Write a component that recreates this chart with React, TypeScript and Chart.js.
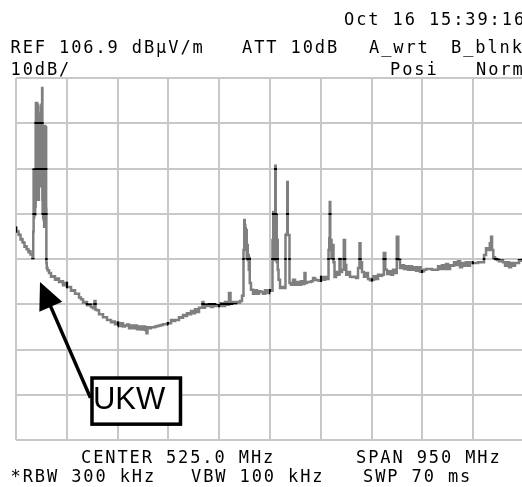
import { useEffect, useRef } from "react";
import { Chart, registerables } from "chart.js";

Chart.register(...registerables);

// ---- data (frequency in MHz, level in dBµV/m) ----
const frequenciesMHz = [
  50.0, 51.9, 53.7, 55.6, 57.5, 59.4, 61.2, 63.1, 65.0, 66.8, 68.7, 70.6, 72.4, 74.3, 76.2, 78.0, 79.9, 81.8,
  82.7, 83.2, 83.7, 84.2, 84.6, 85.1, 85.5, 86.0, 86.5, 87.0, 87.4, 87.9, 88.3, 88.8, 89.3, 89.7, 90.2, 90.7,
  91.1, 91.6, 92.1, 92.5, 93.0, 93.5, 94.0, 94.4, 94.9, 95.3, 95.8, 96.3, 96.8, 97.2, 97.7, 98.2, 98.6, 99.1,
  99.6, 100.0, 100.5, 101.0, 101.4, 102.0, 102.4, 102.9, 103.3, 103.8, 104.2, 104.7, 105.2, 105.6, 106.1, 106.6,
  107.0, 108.0,
  109.8, 113.6, 117.3, 121.1, 124.8, 128.5, 132.3, 136.0, 139.8, 143.5, 147.2, 151.0, 154.7, 158.5, 162.2, 166.0,
  169.7, 173.4, 177.2, 180.9, 184.6, 188.4, 192.1, 195.9, 197.7, 199.6, 203.4, 207.1, 210.8, 214.6, 218.3, 222.1,
  225.8, 229.5, 233.3, 237.0, 240.8, 244.5, 248.2, 252.0, 255.7, 259.5, 263.2, 266.9, 270.7, 274.4, 278.1, 281.9,
  285.6, 289.4, 293.1, 295.0, 296.8, 300.6, 304.3, 308.1, 311.8, 315.5, 319.3, 323.0, 326.8, 330.5, 334.2, 338.0,
  341.7, 345.5, 349.2, 352.9, 356.7, 360.4, 364.2, 367.9, 371.6, 375.4, 379.1, 382.9, 386.6, 390.4, 394.1, 397.8,
  399.7, 401.6, 405.3, 409.0, 412.8, 416.5, 420.3, 424.0, 427.7, 431.5, 435.2, 439.0, 442.7, 446.4, 450.2, 452.1,
  455.8, 459.5, 463.3, 467.0, 470.8, 474.5,
  476.4, 477.3, 478.3, 479.2, 480.1, 481.1, 482.0, 482.9, 483.9, 484.8, 485.8, 486.7, 487.6, 491.3, 495.1, 498.8,
  502.6, 506.3, 510.1, 513.8, 517.5, 521.3, 525.0, 528.7,
  530.6, 531.5, 532.5, 533.4, 534.4, 535.3, 536.2, 537.2, 538.1, 539.0, 540.0, 541.9, 545.6, 549.3, 553.0,
  554.9, 556.8, 557.7, 558.7, 560.5, 562.4, 566.2, 569.9, 573.6, 577.4, 581.1, 584.9, 588.6, 590.4, 592.3, 596.1,
  599.8, 603.6, 607.3, 611.0, 614.8, 618.5, 622.3, 626.0, 629.8, 633.5,
  635.4, 636.3, 637.2, 638.2, 639.1, 641.0, 642.8, 644.7, 646.6, 650.3, 654.1, 655.9, 657.8, 661.5, 664.4, 666.2,
  669.0, 672.8, 676.5, 680.2, 684.0, 687.7, 691.5, 693.3, 695.2, 698.9, 702.7, 706.4, 710.1, 713.9, 717.6, 721.4,
  725.1, 728.9, 732.6, 736.3, 739.2, 742.0, 745.7, 749.4, 753.2, 756.9, 760.7, 763.5, 766.3, 770.0, 773.7, 777.5,
  781.2, 785.0, 788.7, 792.5, 796.2, 799.9, 803.7, 807.4, 811.2, 814.9, 818.6, 822.4, 826.1, 829.9, 833.6, 837.4,
  841.1, 844.8, 848.6, 852.3, 856.1, 859.8, 863.6, 867.3, 871.0, 874.8, 878.5, 882.3, 886.0, 889.7, 893.5, 897.2,
  901.0, 904.7, 908.4, 912.2, 915.9, 919.7, 923.4, 927.1, 930.9, 934.6, 937.5, 939.3, 941.2, 943.9, 947.7, 951.4,
  955.1, 958.9, 962.6, 966.4, 970.1, 973.9, 977.6, 981.3, 985.1, 988.8, 992.6, 996.3, 1000.0,
];

const levelsDbuV = [
  73.8, 73.1, 73.0, 72.3, 72.2, 71.2, 71.3, 70.6, 70.5, 69.6, 69.7, 69.1, 69.0, 68.4, 68.6, 67.9, 67.9, 67.1,
  73.0, 86.6, 76.0, 85.0, 77.0, 86.0, 76.6, 84.0, 78.4, 97.0, 101.4, 80.0, 101.0, 82.0, 101.4, 84.0, 100.5, 85.5,
  101.0, 87.0, 99.0, 80.0, 96.0, 85.0, 92.5, 84.0, 92.0, 86.0, 92.5, 83.0, 100.5, 86.0, 101.0, 84.0, 100.0, 104.7,
  80.0, 77.0, 79.5, 76.0, 78.0, 75.5, 77.0, 74.0, 76.0, 80.0, 96.3, 84.0, 95.0, 82.0, 96.0, 78.0,
  66.0, 64.9,
  64.4, 63.8, 63.0, 63.1, 62.3, 62.6, 61.8, 62.0, 61.1, 61.6, 60.7, 60.7, 59.9, 60.0, 59.2, 59.2,
  58.4, 58.0, 57.4, 57.4, 56.7, 56.8, 56.3, 56.0, 57.6, 55.7, 55.6, 54.7, 54.7, 54.0, 54.0, 53.4,
  53.4, 52.9, 53.1, 52.5, 52.8, 52.1, 52.7, 52.0, 52.2, 52.4, 51.6, 52.2, 51.6, 52.2, 51.4, 52.0,
  51.3, 52.0, 51.2, 50.5, 51.8, 51.6, 51.8, 51.8, 52.0, 52.1, 52.2, 52.3, 52.5, 52.5, 52.7, 52.7,
  53.4, 53.2, 53.4, 53.4, 54.0, 53.9, 54.5, 54.3, 54.9, 54.7, 55.4, 54.9, 55.8, 55.2, 56.1, 56.1,
  57.4, 56.1, 56.8, 56.5, 56.9, 56.3, 56.9, 56.5, 56.7, 56.5, 57.1, 56.5, 57.4, 56.8, 59.4, 57.0,
  57.4, 57.2, 57.4, 57.4, 57.6, 58.8,
  68.9, 75.5, 74.4, 73.7, 68.9, 73.3, 67.1, 70.0, 66.7, 67.8, 64.5, 67.1, 61.6, 60.1, 59.2, 60.0,
  59.2, 59.8, 59.6, 59.2, 60.0, 59.4, 60.0, 59.9,
  71.1, 77.3, 66.7, 77.1, 68.9, 87.5, 73.3, 76.6, 66.2, 71.1, 64.5, 62.3, 60.5, 60.7, 60.5,
  72.2, 72.4, 83.9, 72.2, 72.2, 61.6, 61.2, 62.3, 61.2, 61.8, 61.2, 62.0, 61.4, 63.8, 61.6, 61.8,
  61.8, 62.0, 62.7, 62.3, 62.2, 62.1, 62.9, 62.3, 62.9, 62.5,
  68.9, 71.5, 79.5, 68.9, 71.1, 67.1, 70.0, 66.2, 62.9, 64.0, 63.4, 66.9, 64.0, 64.5, 71.1, 65.6,
  63.4, 64.0, 63.0, 62.9, 63.0, 62.7, 64.9, 70.4, 66.2, 64.0, 63.0, 63.8, 62.5, 62.2, 62.3, 63.1,
  62.5, 63.4, 63.2, 63.4, 68.2, 64.5, 63.6, 64.2, 63.4, 64.5, 63.8, 71.8, 66.7, 64.9, 65.5, 64.7,
  65.3, 64.5, 65.3, 64.5, 65.1, 64.3, 65.1, 64.1, 64.2, 64.5, 64.7, 64.7, 64.7, 64.5, 64.5, 64.5,
  65.3, 64.7, 65.5, 64.7, 65.8, 64.7, 65.5, 65.4, 66.2, 65.6, 66.4, 65.1, 66.0, 65.4, 66.2, 65.4,
  66.2, 66.0, 66.0, 66.0, 66.2, 66.2, 66.2, 67.8, 69.3, 68.9, 70.4, 71.8, 68.9, 67.3, 66.9, 66.7,
  66.4, 66.5, 66.2, 65.4, 66.2, 65.1, 66.0, 65.4, 66.0, 66.0, 66.6, 66.5, 66.9,
];

// axis settings of the analyzer screen
const refLevel = 106.9;
const dbPerDiv = 10;
const yDivisions = 8;
const startMHz = 50;
const stopMHz = 1000;
const mhzPerDiv = 95;

// screen annotations (text)
const headerTexts = ["Oct 16 15:39:16", "REF 106.9 dBµV/m", "ATT 10dB", "A_wrt", "B_blnk", "10dB/", "Posi", "Norm"];
const footerTexts = ["CENTER 525.0 MHz", "SPAN 950 MHz", "*RBW 300 kHz", "VBW 100 kHz", "SWP 70 ms"];
const calloutLabel = "UKW";
// callout anchors in data units [MHz, dB]
const calloutTip = [94.9, 61.8];
const calloutTail = [189.3, 36.2];
const calloutBox = [192.1, 40.6, 357.6, 30.4]; // left, top, right, bottom

const screenPlugin = {
  id: "screen",
  afterDatasetsDraw(chart: any) {
    const { ctx, chartArea: a, scales } = chart;
    const xs = scales.x;
    const ys = scales.y;
    const meta = chart.getDatasetMeta(0);
    ctx.save();
    ctx.beginPath();
    ctx.rect(a.left, a.top, a.right - a.left, a.bottom - a.top);
    ctx.clip();
    ctx.beginPath();
    xs.ticks.forEach((t: any) => {
      const p = Math.round(xs.getPixelForValue(t.value) - 1) + 1;
      ctx.rect(p - 1, a.top, 2, a.bottom - a.top);
    });
    ys.ticks.forEach((t: any) => {
      const p = Math.round(ys.getPixelForValue(t.value) - 1) + 1;
      ctx.rect(a.left, p - 1, a.right - a.left, 2);
    });
    ctx.clip();
    ctx.beginPath();
    let prev: any = null;
    meta.data.forEach((pt: any) => {
      if (!prev) ctx.moveTo(pt.x, pt.y);
      else {
        const mid = (prev.x + pt.x) / 2;
        ctx.lineTo(mid, prev.y);
        ctx.lineTo(mid, pt.y);
        ctx.lineTo(pt.x, pt.y);
      }
      prev = pt;
    });
    ctx.strokeStyle = "#000";
    ctx.lineWidth = 2.5;
    ctx.stroke();
    ctx.restore();
  },
  afterDraw(chart: any) {
    const { ctx, scales } = chart;
    const xs = scales.x;
    const ys = scales.y;
    ctx.save();
    const bl = xs.getPixelForValue(calloutBox[0]);
    const bt = ys.getPixelForValue(calloutBox[1]);
    const br = xs.getPixelForValue(calloutBox[2]);
    const bb = ys.getPixelForValue(calloutBox[3]);
    const tx = xs.getPixelForValue(calloutTip[0]);
    const ty = ys.getPixelForValue(calloutTip[1]);
    const sx = xs.getPixelForValue(calloutTail[0]);
    const sy = ys.getPixelForValue(calloutTail[1]);
    const dx = tx - sx;
    const dy = ty - sy;
    const len = Math.hypot(dx, dy);
    const ux = dx / len;
    const uy = dy / len;
    const headLen = 27;
    const halfW = 12.5;
    const bx = tx - ux * headLen;
    const by = ty - uy * headLen;
    ctx.strokeStyle = "#000";
    ctx.lineWidth = 3.5;
    ctx.beginPath();
    ctx.moveTo(sx, sy);
    ctx.lineTo(bx + ux * 4, by + uy * 4);
    ctx.stroke();
    ctx.fillStyle = "#000";
    ctx.beginPath();
    ctx.moveTo(tx, ty);
    ctx.lineTo(bx - uy * halfW, by + ux * halfW);
    ctx.lineTo(bx + uy * halfW, by - ux * halfW);
    ctx.closePath();
    ctx.fill();

    ctx.fillStyle = "#fff";
    ctx.fillRect(bl, bt, br - bl, bb - bt);
    ctx.lineWidth = 3.5;
    ctx.strokeRect(bl, bt, br - bl, bb - bt);
    ctx.fillStyle = "#000";
    ctx.font = "31px 'Liberation Sans', Arial, sans-serif";
    ctx.textBaseline = "alphabetic";
    ctx.fillText(calloutLabel, bl + 1, bb - 15);

    ctx.font = "17px 'DejaVu Sans Mono', monospace";
    (ctx as any).letterSpacing = "1.9px";
    const headerPos = [
      [344, 25], [10.5, 52.5], [242, 52.5], [369, 52.5], [451, 52.5],
      [10.5, 75], [390, 75], [476, 75],
    ];
    headerTexts.forEach((t, i) => ctx.fillText(t, headerPos[i][0], headerPos[i][1]));
    const footerPos = [
      [81, 463], [356, 463], [10.5, 481.5], [191, 481.5], [363, 481.5],
    ];
    footerTexts.forEach((t, i) => ctx.fillText(t, footerPos[i][0], footerPos[i][1]));
    ctx.restore();
  },
};

export default function App() {
  const canvasRef = useRef<HTMLCanvasElement | null>(null);

  useEffect(() => {
    const canvas = canvasRef.current;
    if (!canvas) return;
    const gridOpts = { color: "#c8c8c8", lineWidth: 2, drawTicks: false };
    const chart = new Chart(canvas, {
      type: "line",
      data: {
        datasets: [
          {
            data: frequenciesMHz.map((f, i) => ({ x: f, y: levelsDbuV[i] })),
            borderColor: "#7f7f7f",
            borderWidth: 2.5,
            stepped: "middle",
            pointRadius: 0,
            tension: 0,
            fill: false,
          },
        ],
      },
      options: {
        animation: false,
        responsive: false,
        devicePixelRatio: 1,
        events: [],
        layout: { padding: { left: 16, top: 78, right: 16, bottom: 47 } },
        plugins: { legend: { display: false }, tooltip: { enabled: false }, title: { display: false } },
        scales: {
          x: {
            type: "linear",
            min: startMHz,
            max: stopMHz,
            ticks: { display: false, stepSize: mhzPerDiv },
            grid: gridOpts,
            border: { display: false },
          },
          y: {
            type: "linear",
            min: refLevel - dbPerDiv * yDivisions,
            max: refLevel,
            ticks: { display: false, stepSize: dbPerDiv },
            grid: gridOpts,
            border: { display: false },
          },
        },
      } as any,
      plugins: [screenPlugin],
    });
    return () => chart.destroy();
  }, []);

  return (
    <div style={{ position: "fixed", left: 0, top: 0, width: 522, height: 487, overflow: "hidden", background: "#fff" }}>
      <canvas ref={canvasRef} width={540} height={487} style={{ display: "block", width: 540, height: 487 }} />
    </div>
  );
}
